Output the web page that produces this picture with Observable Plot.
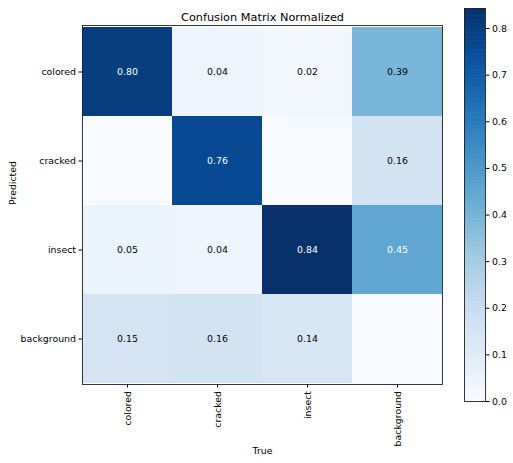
<!DOCTYPE html>
<html>
<head>
<meta charset="utf-8">
<script src="https://cdn.jsdelivr.net/npm/d3@7"></script>
<script src="https://cdn.jsdelivr.net/npm/@observablehq/plot@0.6"></script>
<style>
  html, body { margin: 0; padding: 0; background: #fff; }
  #chart { position: relative; width: 513px; height: 463px; background: #fff; }
  #chart svg { position: absolute; top: 0; }
</style>
</head>
<body>
<div id="chart"></div>
<script>
// ---- data ----
const title = "Confusion Matrix Normalized";
const xLabel = "True";
const yLabel = "Predicted";
const categories = ["colored", "cracked", "insect", "background"];
// rows = predicted, columns = true
const rowColored    = [0.80, 0.04, 0.02, 0.39];
const rowCracked    = [0.00, 0.76, 0.00, 0.16];
const rowInsect     = [0.05, 0.04, 0.843, 0.45];
const rowBackground = [0.15, 0.16, 0.14, 0.00];
const colorbarTicks = [0.0, 0.1, 0.2, 0.3, 0.4, 0.5, 0.6, 0.7, 0.8];

const rows = [rowColored, rowCracked, rowInsect, rowBackground];
const table = [];
rows.forEach((r, i) => r.forEach((v, j) => table.push({pred: categories[i], tru: categories[j], value: v})));
const vmax = d3.max(table, d => d.value);
const thresh = vmax / 2;

const blues = ["#f7fbff","#deebf7","#c6dbef","#9ecae1","#6baed6","#4292c6","#2171b5","#08519c","#08306b"];
const colorScale = {
  type: "linear",
  domain: blues.map((_, i) => i / (blues.length - 1) * vmax),
  range: blues,
  interpolate: "rgb"
};

const font = "DejaVu Sans, sans-serif";
const labelled = table.filter(d => d.value >= 0.005);

const main = Plot.plot({
  width: 450,
  height: 463,
  marginLeft: 82,
  marginRight: 8,
  marginTop: 25,
  marginBottom: 79,
  style: {fontFamily: font, fontSize: "9.4px", color: "#000", background: "transparent"},
  x: {type: "band", domain: categories, padding: 0, label: null},
  y: {type: "band", domain: categories, padding: 0, label: null},
  color: colorScale,
  marks: [
    Plot.cell(table, {x: "tru", y: "pred", fill: "value", inset: 0}),
    Plot.text(labelled.filter(d => d.value > thresh), {x: "tru", y: "pred", text: d => d.value.toFixed(2), fill: "white", fontSize: 9.4}),
    Plot.text(labelled.filter(d => d.value <= thresh), {x: "tru", y: "pred", text: d => d.value.toFixed(2), fill: "black", fontSize: 9.4}),
    Plot.frame({stroke: "#222", strokeWidth: 0.9}),
    Plot.axisX({anchor: "bottom", tickRotate: -90, tickSize: 3.5, tickPadding: 3, label: null, fontSize: 9.4}),
    Plot.axisY({anchor: "left", tickSize: 3.5, tickPadding: 3, label: null, fontSize: 9.4}),
    Plot.text([title], {frameAnchor: "top", dy: -13, fontSize: 11.3, fill: "black"}),
    Plot.text([xLabel], {frameAnchor: "bottom", dy: 69, fontSize: 9.4, fill: "black"}),
    Plot.text([yLabel], {frameAnchor: "left", dx: -70, rotate: -90, fontSize: 9.4, fill: "black"})
  ]
});
main.style.left = "0px";

const step = vmax / 300;
const stops = d3.range(0, vmax, step);
const bar = Plot.plot({
  width: 73,
  height: 463,
  marginLeft: 24,
  marginRight: 28,
  marginTop: 8,
  marginBottom: 62,
  style: {fontFamily: font, fontSize: "9.4px", color: "#000", background: "transparent"},
  y: {domain: [0, vmax], label: null},
  color: colorScale,
  marks: [
    Plot.rect(stops, {y1: d => d, y2: d => Math.min(vmax, d + step * 1.5), fill: d => d + step / 2}),
    Plot.frame({stroke: "#222", strokeWidth: 0.9}),
    Plot.axisY(colorbarTicks, {anchor: "right", tickSize: 3.5, tickPadding: 3, tickFormat: d3.format(".1f"), label: null, fontSize: 9.4})
  ]
});
bar.style.left = "440px";

const chart = document.getElementById("chart");
chart.appendChild(main);
chart.appendChild(bar);
</script>
</body>
</html>
